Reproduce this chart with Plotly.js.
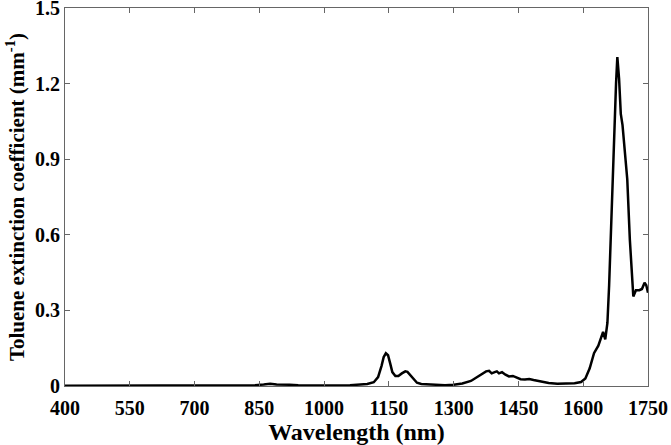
<!DOCTYPE html>
<html>
<head>
<meta charset="utf-8">
<script src="https://cdn.plot.ly/plotly-3.0.1.min.js"></script>
<style>
  html, body { margin: 0; padding: 0; background: white; }
  #plot { width: 671px; height: 445px; }
</style>
</head>
<body>
<div id="plot"></div>
<script>
// wavelength (nm) and toluene extinction coefficient (mm^-1)
const wavelength = [
  400, 450, 500, 550, 600, 650, 700, 750, 800, 840, 860, 875, 890, 905, 920, 940, 970,
  1000, 1030, 1060, 1080, 1100, 1115, 1125, 1133, 1138, 1143, 1148, 1153, 1158, 1165,
  1172, 1180, 1188, 1193, 1200, 1208, 1215, 1225, 1240, 1260, 1280, 1300, 1320, 1340,
  1355, 1365, 1375, 1382, 1388, 1395, 1400, 1405, 1412, 1420, 1428, 1437, 1445, 1455,
  1465, 1475, 1485, 1500, 1520, 1540, 1560, 1580, 1595, 1605, 1615, 1625, 1635, 1642,
  1646, 1651, 1656, 1660, 1665, 1670, 1676, 1679, 1683, 1687, 1691, 1696, 1702, 1708,
  1713, 1716, 1722, 1730, 1736, 1742, 1746, 1750
];
const extinction = [
  0.001, 0.001, 0.001, 0.001, 0.001, 0.001, 0.002, 0.001, 0.002, 0.003, 0.006, 0.009, 0.006, 0.004, 0.005, 0.003, 0.002,
  0.003, 0.002, 0.003, 0.005, 0.008, 0.015, 0.035, 0.08, 0.115, 0.13, 0.122, 0.09, 0.055, 0.04,
  0.04, 0.05, 0.058, 0.056, 0.042, 0.025, 0.013, 0.008, 0.006, 0.004, 0.003, 0.005, 0.01, 0.02,
  0.035, 0.045, 0.058, 0.06, 0.05, 0.055, 0.058, 0.05, 0.055, 0.045, 0.038, 0.04, 0.033, 0.027,
  0.026, 0.028, 0.024, 0.018, 0.012, 0.009, 0.009, 0.011, 0.016, 0.03, 0.07, 0.13, 0.16, 0.2,
  0.215, 0.185, 0.25, 0.4, 0.62, 0.9, 1.2, 1.305, 1.22, 1.08, 1.035, 0.95, 0.82, 0.58,
  0.42, 0.355, 0.38, 0.38, 0.385, 0.41, 0.4, 0.37
];
const xTicks = [400, 550, 700, 850, 1000, 1150, 1300, 1450, 1600, 1750];
const yTicks = [0, 0.3, 0.6, 0.9, 1.2, 1.5];
const yTickText = ['0', '0.3', '0.6', '0.9', '1.2', '1.5'];

const font = { family: 'Liberation Serif, Times New Roman, serif', size: 20, color: 'black', weight: 'bold' };

Plotly.newPlot('plot', [
  { x: wavelength, y: extinction, mode: 'lines', line: { color: 'black', width: 2.5 }, showlegend: false }
], {
  width: 671, height: 445,
  margin: { t: 8, l: 65, r: 23, b: 59 },
  font: font,
  xaxis: {
    range: [400, 1750], tickvals: xTicks, ticks: 'inside', ticklen: 5, tickcolor: '#666',
    showline: true, linecolor: '#666', linewidth: 1, mirror: 'ticks', showgrid: false, zeroline: false,
    ticklabelstandoff: 4, ticklabeloverflow: 'allow',
    title: { text: 'Wavelength (nm)', font: { ...font, size: 24 }, standoff: 4 }
  },
  yaxis: {
    range: [0, 1.5], tickvals: yTicks, ticktext: yTickText, ticks: 'inside', ticklen: 5, tickcolor: '#666',
    showline: true, linecolor: '#666', linewidth: 1, mirror: 'ticks', showgrid: false, zeroline: false,
    ticklabeloverflow: 'allow',
    title: { text: 'Toluene extinction coefficient (mm<sup>-1</sup>)', font: { ...font, size: 21 }, standoff: 4 }
  },
  plot_bgcolor: 'white', paper_bgcolor: 'white'
}, { displayModeBar: false, staticPlot: true });
</script>
</body>
</html>
